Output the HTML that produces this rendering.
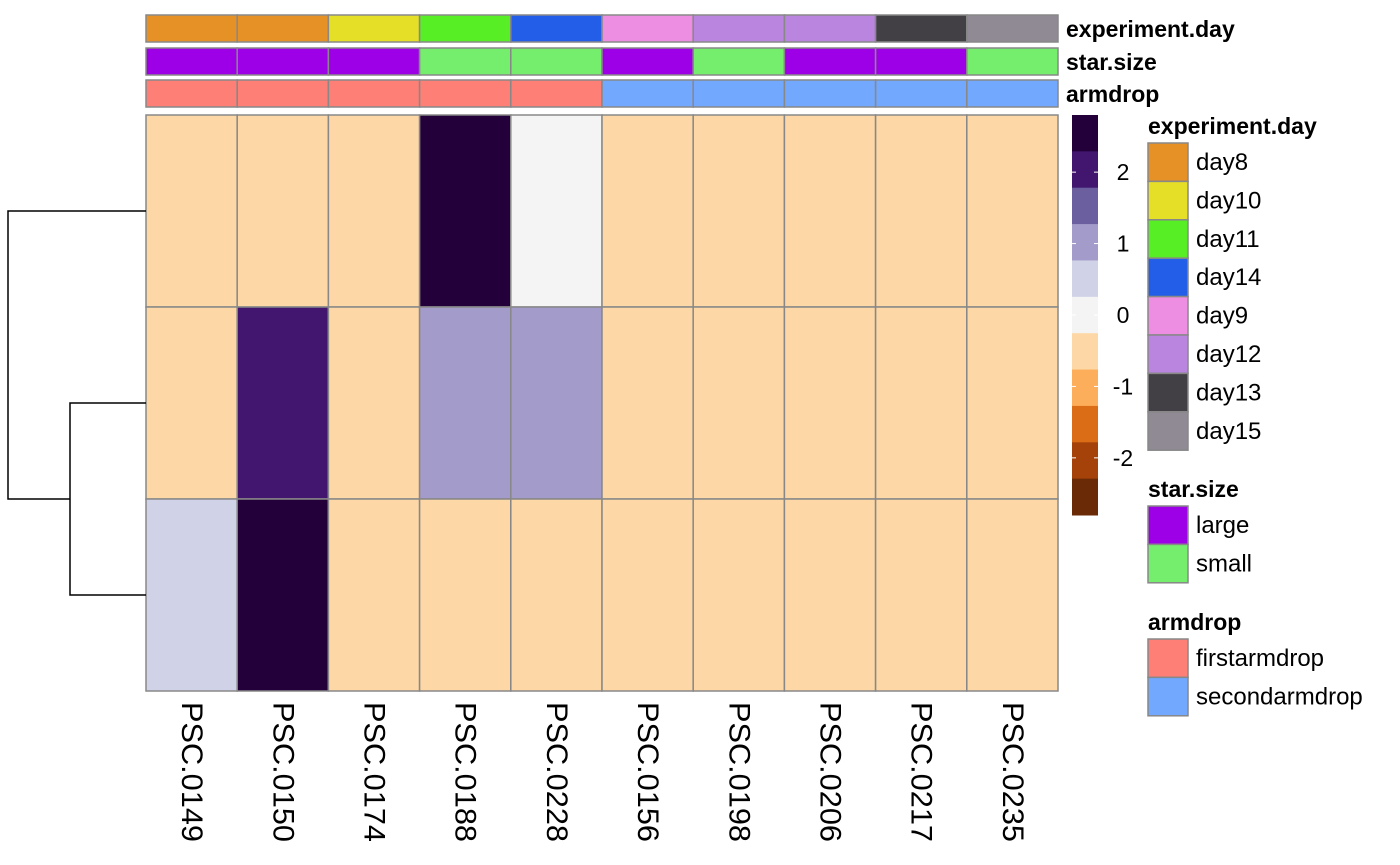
<!DOCTYPE html>
<html><head><meta charset="utf-8">
<style>
body{margin:0;background:#fff;}
svg{display:block;font-family:"Liberation Sans",Arial,sans-serif;}
</style></head>
<body>
<svg id="chart" width="1400" height="865" viewBox="0 0 1400 865"></svg>
<script>
const samples=["PSC.0149","PSC.0150","PSC.0174","PSC.0188","PSC.0228","PSC.0156","PSC.0198","PSC.0206","PSC.0217","PSC.0235"];
const expDay=["day8","day8","day10","day11","day14","day9","day12","day12","day13","day15"];
const starSize=["large","large","large","small","small","large","small","large","large","small"];
const armdrop=["firstarmdrop","firstarmdrop","firstarmdrop","firstarmdrop","firstarmdrop","secondarmdrop","secondarmdrop","secondarmdrop","secondarmdrop","secondarmdrop"];
const row1=[-0.3,-0.3,-0.3,2.7,0,-0.3,-0.3,-0.3,-0.3,-0.3];
const row2=[-0.3,2.2,-0.3,1.2,1.2,-0.3,-0.3,-0.3,-0.3,-0.3];
const row3=[0.7,2.7,-0.3,-0.3,-0.3,-0.3,-0.3,-0.3,-0.3,-0.3];
const rows=[row1,row2,row3];
const dayLevels=["day8","day10","day11","day14","day9","day12","day13","day15"];
const dayColors=["#e69126","#e6df28","#58ee25","#235ee8","#ee8ee3","#b985df","#424045","#908a94"];
const sizeLevels=["large","small"];
const sizeColors=["#9d00e6","#74ee6c"];
const armLevels=["firstarmdrop","secondarmdrop"];
const armColors=["#fe7f76","#73a8ff"];
const scaleColors=["#24003a","#42166f","#6b5fa0","#a39bc9","#d0d2e7","#f4f4f4","#fdd8a6","#fdae5b","#dc6d17","#a54209","#6a2a06"];
const scaleTicks=[2,1,0,-1,-2];
const vMax=2.8,vMin=-2.8;

const svg=document.getElementById('chart');
const NS="http://www.w3.org/2000/svg";
function mk(tag,attrs,parent){const e=document.createElementNS(NS,tag);for(const k in attrs)e.setAttribute(k,attrs[k]);(parent||svg).appendChild(e);return e;}
const X0=146,X1=1058,Y0=115,Y1=691;
const cw=(X1-X0)/samples.length, rh=(Y1-Y0)/rows.length;
function colorFor(v){let i=Math.floor((vMax-v)/(vMax-vMin)*scaleColors.length);i=Math.max(0,Math.min(scaleColors.length-1,i));return scaleColors[i];}

const annos=[[expDay,dayLevels,dayColors,15,"experiment.day"],[starSize,sizeLevels,sizeColors,48,"star.size"],[armdrop,armLevels,armColors,80,"armdrop"]];
annos.forEach(a=>{
  a[0].forEach((v,i)=>{
    const r=mk('rect',{x:X0+i*cw,y:a[3],width:cw,height:27,fill:a[2][a[1].indexOf(v)],stroke:'#888','stroke-width':1.5});
    
    
  });
  const t=mk('text',{x:1066,y:a[3]+22,'font-size':23,'font-weight':'bold'});t.textContent=a[4];
  
  
});
rows.forEach((row,r)=>row.forEach((v,c)=>{
  const e=mk('rect',{x:X0+c*cw,y:Y0+r*rh,width:cw,height:rh,fill:colorFor(v),stroke:'#888','stroke-width':1.5});
  
  
}));
samples.forEach((s,i)=>{
  const x=X0+(i+0.5)*cw;
  const t=mk('text',{x:x,y:702,'font-size':30,textLength:140,lengthAdjust:'spacingAndGlyphs',transform:`rotate(90 ${x} 702)`,'dominant-baseline':'central'});
  t.textContent=s;
  
  
});
const yc=r=>Y0+(r+0.5)*rh;
const m23=(yc(1)+yc(2))/2;
const g=mk('g',{stroke:'#000','stroke-width':1.5,fill:'none'});


mk('path',{d:`M${X0} ${yc(0)}H8V${m23}H70 M${X0} ${yc(1)}H70V${yc(2)}H${X0}`},g);
const SX=1072,SY0=115,SY1=515,sh=(SY1-SY0)/scaleColors.length;
scaleColors.forEach((c,i)=>{
  const e=mk('rect',{x:SX,y:SY0+i*sh,width:26,height:sh+0.5,fill:c});
  
  
});
scaleTicks.forEach(v=>{
  const y=SY0+(vMax-v)/(vMax-vMin)*(SY1-SY0);
  const t=mk('text',{x:1123,y:y+8,'font-size':23,'text-anchor':'middle'});t.textContent=v;
  
  
  mk('line',{x1:SX,x2:SX+4,y1:y,y2:y,stroke:'#fff','stroke-width':1});
  mk('line',{x1:SX+22,x2:SX+26,y1:y,y2:y,stroke:'#fff','stroke-width':1});
});
function legend(title,levels,colors,ty){
  const t=mk('text',{x:1148,y:ty,'font-size':23,'font-weight':'bold'});t.textContent=title;
  
  
  levels.forEach((l,i)=>{
    const y=ty+9+i*38.4;
    const r=mk('rect',{x:1148,y:y,width:40,height:38.4,fill:colors[i],stroke:'#888','stroke-width':1.5});
    
    
    const tx=mk('text',{x:1196,y:y+27,'font-size':24});tx.textContent=l;
    
    
  });
}
legend("experiment.day",dayLevels,dayColors,134);
legend("star.size",sizeLevels,sizeColors,497);
legend("armdrop",armLevels,armColors,630);
</script>
</body></html>
